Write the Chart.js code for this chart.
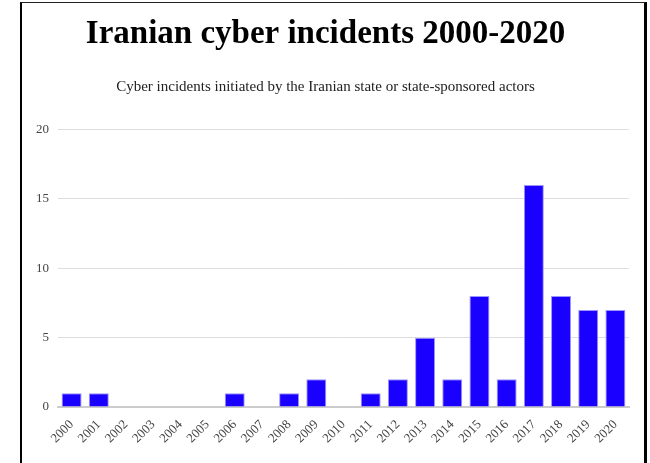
<!DOCTYPE html>
<html>
<head>
<meta charset="utf-8">
<script src="https://cdn.jsdelivr.net/npm/chart.js"></script>
<style>
  body { margin: 0; background: #fff; }
  #box {
    position: absolute; left: 20px; top: 2px; width: 622px; height: 470px;
    border-left: 2px solid #000; border-right: 3px solid #000; border-top: 1px solid #222;
  }
  #wrap { position: relative; width: 622px; height: 460px; }
</style>
</head>
<body>
<div id="box"><div id="wrap"><canvas id="myChart"></canvas></div></div>
<script>
var years = ['2000', '2001', '2002', '2003', '2004', '2005', '2006', '2007', '2008', '2009', '2010',
  '2011', '2012', '2013', '2014', '2015', '2016', '2017', '2018', '2019', '2020'];
var incidents = [1, 1, 0, 0, 0, 0, 1, 0, 1, 2, 0, 1, 2, 5, 2, 8, 2, 16, 8, 7, 7];
var yTicks = [0, 5, 10, 15, 20];

var serif = '"Liberation Serif", "DejaVu Serif", serif';

var ctx = document.getElementById('myChart').getContext('2d');
var myChart = new Chart(ctx, {
  type: 'bar',
  data: {
    labels: years,
    datasets: [{
      label: 'Incidents',
      data: incidents,
      backgroundColor: '#1a00ff',
      borderColor: '#9d94ff',
      borderWidth: 1,
      categoryPercentage: 1,
      barPercentage: 0.735
    }]
  },
  options: {
    responsive: true,
    maintainAspectRatio: false,
    animation: false,
    layout: { padding: { left: 0, right: 15, top: 0, bottom: 0 } },
    plugins: {
      legend: { display: false },
      tooltip: { enabled: false },
      title: {
        display: true,
        text: 'Iranian cyber incidents 2000-2020',
        color: '#000',
        font: { family: serif, size: 33, weight: 'bold' },
        padding: { top: 12, bottom: 0 }
      },
      subtitle: {
        display: true,
        text: 'Cyber incidents initiated by the Iranian state or state-sponsored actors',
        color: '#222',
        font: { family: serif, size: 15 },
        padding: { top: 23, bottom: 34 }
      }
    },
    scales: {
      x: {
        grid: { display: false },
        border: { color: '#ccc', width: 2 },
        ticks: {
          color: '#444',
          font: { family: serif, size: 13 },
          maxRotation: 45,
          minRotation: 45,
          autoSkip: false,
          padding: 2
        },
        afterFit: function (scale) { scale.height = 56; }
      },
      y: {
        min: 0,
        max: 20,
        afterBuildTicks: function (scale) {
          scale.ticks = yTicks.map(function (v) { return { value: v }; });
        },
        grid: { color: '#dedede', drawTicks: false },
        border: { display: false },
        ticks: {
          color: '#444',
          font: { family: serif, size: 13 },
          padding: 9
        },
        afterFit: function (scale) { scale.width = 36; }
      }
    }
  }
});
</script>
</body>
</html>
